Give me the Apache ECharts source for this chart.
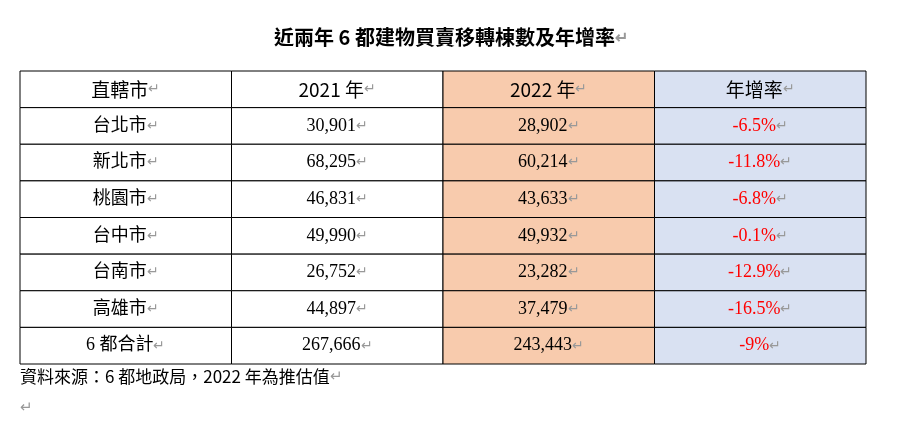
<!DOCTYPE html>
<html><head><meta charset="utf-8">
<script src="https://cdn.jsdelivr.net/npm/echarts@6/dist/echarts.min.js"></script>
<style>html,body{margin:0;background:#fff}#c{width:902px;height:426px}</style>
</head><body><div id="c"></div>
<script>
const headers = ['直轄市', '2021 年', '2022 年', '年增率'];
const cities = ['台北市', '新北市', '桃園市', '台中市', '台南市', '高雄市', '6 都合計'];
const y2021 = ['30,901', '68,295', '46,831', '49,990', '26,752', '44,897', '267,666'];
const y2022 = ['28,902', '60,214', '43,633', '49,932', '23,282', '37,479', '243,443'];
const rates = ['-6.5%', '-11.8%', '-6.8%', '-0.1%', '-12.9%', '-16.5%', '-9%'];
const colFills = ['#ffffff', '#ffffff', '#F8CBAD', '#D9E1F2'];

const data = [];
headers.forEach((h, c) => data.push([c, 0, h, 'head']));
cities.forEach((v, r) => {
  data.push([0, r + 1, v, 'body']);
  data.push([1, r + 1, y2021[r], 'body']);
  data.push([2, r + 1, y2022[r], 'body']);
  data.push([3, r + 1, rates[r], 'rate']);
});

const chart = echarts.init(document.getElementById('c'));
chart.setOption({
  animation: false,
  title: {
    text: '近兩年 6 都建物買賣移轉棟數及年增率{m|↵}',
    left: 'center', top: 22,
    textStyle: { fontFamily: 'Noto Sans CJK TC', fontSize: 20, fontWeight: 'bold', color: '#000',
      rich: { m: { color: '#999', fontSize: 16 } } }
  },
  grid: { left: 20, right: 36, top: 71, bottom: 62 },
  xAxis: { type: 'category', data: [0, 1, 2, 3], show: false },
  yAxis: { type: 'category', data: [0, 1, 2, 3, 4, 5, 6, 7], inverse: true, show: false },
  graphic: [
    { type: 'text', left: 20, top: 368, style: { text: '資料來源：6 都地政局，2022 年為推估值{m|↵}', font: '17px "Noto Sans CJK TC"', fill: '#000',
      rich: { m: { fill: '#999', fontSize: 15 } } } },
    { type: 'text', left: 20, top: 400, style: { text: '↵', font: '15px sans-serif', fill: '#999' } }
  ],
  series: [{
    type: 'custom',
    data: data,
    renderItem: function (params, api) {
      const c = api.value(0), r = api.value(1);
      const p = api.coord([c, r]);
      const s = api.size([1, 1]);
      const item = data[params.dataIndex];
      const kind = item[3];
      const head = kind === 'head';
      const font = head ? '19px "Noto Sans CJK TC"' : '18px "Liberation Serif", "Noto Sans CJK TC"';
      return {
        type: 'group',
        children: [
          { type: 'rect', shape: { x: p[0] - s[0] / 2, y: p[1] - s[1] / 2, width: s[0], height: s[1] },
            style: { fill: colFills[c], stroke: '#000', lineWidth: 1 } },
          { type: 'text', x: p[0], y: p[1],
            style: { text: item[2] + '{m|↵}', font: font, fill: kind === 'rate' ? '#FF0000' : '#000',
              align: 'center', verticalAlign: 'middle',
              rich: { m: { fill: '#999', fontSize: 14 } } } }
        ]
      };
    }
  }]
});
</script></body></html>
